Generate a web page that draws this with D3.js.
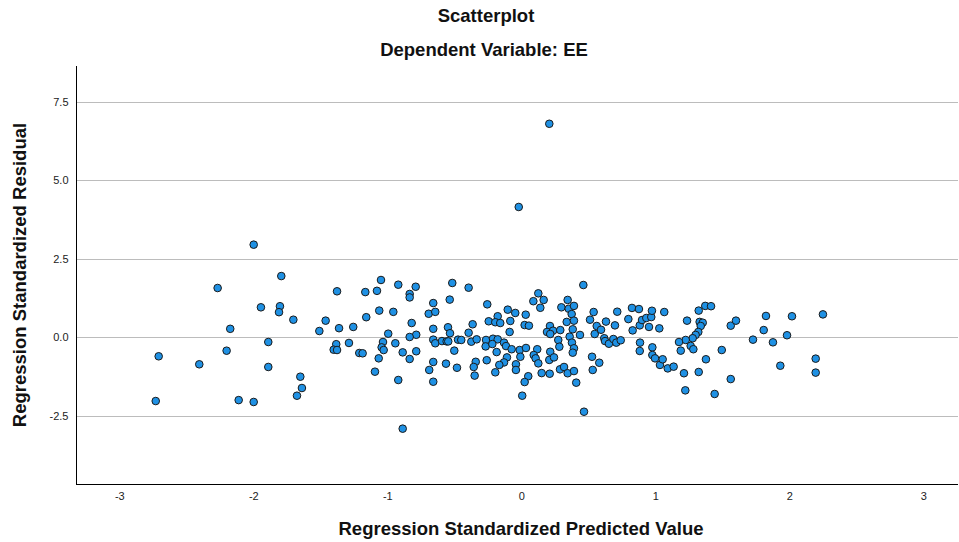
<!DOCTYPE html>
<html>
<head>
<meta charset="utf-8">
<script src="https://cdn.jsdelivr.net/npm/d3@7"></script>
<style>
  html, body { margin: 0; padding: 0; background: #fff; }
  svg { display: block; font-family: "Liberation Sans", Arial, sans-serif; }
</style>
</head>
<body>
<svg id="chart" width="959" height="542"></svg>
<script>
// ---- Data ----
const predicted = [
  -1.997,-2.266,-1.943,-2.172,-2.706,-2.403,-2.199,-2.728,-2.109,-1.997,
  -1.791,-1.375,-1.164,-1.077,-1.047,-1.801,-1.808,-1.701,-1.460,-1.507,
  -1.360,-1.254,-1.157,-1.060,-1.888,-1.381,-1.400,-1.375,-1.286,-1.209,
  -1.184,-1.032,-1.042,-1.027,-1.064,-1.092,-1.888,-1.649,-1.637,-1.674,
  -0.918,-0.788,-0.833,-0.833,-0.515,-0.393,-0.534,-0.657,-0.691,-0.642,
  -0.955,-0.818,-0.254,-0.243,-0.993,-0.784,-0.833,-0.657,-0.547,-0.532,
  -0.363,-0.393,-0.940,-0.885,-0.784,-0.833,-0.657,-0.642,-0.592,-0.557,
  -0.545,-0.472,-0.448,-0.373,-0.333,-0.263,-0.266,-0.500,-0.657,-0.687,
  -0.562,-0.480,-0.340,-0.355,-0.348,-0.258,-0.918,-0.657,-0.885,
  0.127,0.090,0.167,0.142,-0.101,-0.045,-0.176,-0.194,-0.157,-0.082,
  0.033,0.025,0.057,-0.087,0.299,0.346,0.354,0.376,0.339,0.214,
  0.192,0.237,0.291,0.216,0.384,0.361,0.276,0.284,0.378,-0.211,
  -0.176,-0.216,-0.129,-0.114,-0.184,-0.072,-0.012,0.035,0.119,0.216,
  -0.107,-0.129,-0.164,-0.007,0.093,0.107,0.127,0.209,0.244,-0.040,
  -0.040,-0.194,0.152,0.212,0.289,0.319,0.346,0.052,0.025,0.007,
  0.463,0.393,0.393,0.438,0.393,0.384,0.540,0.513,0.563,0.548,
  0.595,0.632,0.699,0.716,0.619,0.625,0.654,0.687,0.709,0.742,
  0.826,0.878,0.799,0.884,0.901,0.933,0.970,0.975,0.953,0.831,
  1.030,0.886,0.884,0.978,0.978,0.998,1.035,0.528,0.582,0.533,
  0.393,0.410,0.468,
  1.067,1.237,1.324,1.373,1.416,1.331,1.354,1.339,1.321,1.301,
  1.279,1.227,1.177,1.190,1.264,1.284,1.055,1.093,1.137,1.214,
  1.324,1.378,1.496,1.563,1.602,1.563,1.224,1.443,1.729,1.826,
  1.809,1.878,1.983,2.020,1.933,2.197,2.197,2.251,
  0.209,-0.019
];
const residual = [
  2.95,1.57,0.955,0.27,-0.605,-0.86,-0.427,-2.03,-2.00,-2.06,
  1.95,1.465,1.44,1.48,1.825,0.99,0.80,0.56,0.53,0.20,
  0.29,0.33,0.64,0.85,-0.15,-0.22,-0.395,-0.405,-0.18,-0.50,
  -0.51,-0.15,-0.32,-0.405,-0.67,-1.095,-0.945,-1.255,-1.615,-1.86,
  1.675,1.61,1.38,1.27,1.73,1.58,1.20,1.09,0.75,0.81,
  0.81,0.455,1.05,0.51,0.115,0.08,0.01,0.27,0.32,0.13,
  0.415,0.145,-0.19,-0.48,-0.445,-0.69,-0.075,-0.19,-0.12,-0.13,
  -0.13,-0.075,-0.085,-0.14,-0.065,-0.085,-0.29,-0.425,-0.785,-1.04,
  -0.84,-0.97,-0.78,-0.945,-1.22,-0.73,-1.36,-1.415,-2.91,
  1.40,1.15,1.19,0.94,0.88,0.775,0.67,0.48,0.455,0.52,
  0.72,0.39,0.37,0.17,0.955,1.19,0.91,0.74,0.49,0.36,
  0.17,0.21,0.23,0.105,0.255,0.02,-0.085,-0.30,-0.17,-0.045,
  -0.065,-0.215,-0.17,-0.28,-0.47,-0.38,-0.405,-0.34,-0.38,-0.46,
  -0.64,-0.80,-0.88,-0.62,-0.565,-0.67,-0.83,-0.72,-0.64,-0.86,
  -1.04,-1.115,-1.14,-1.16,-1.02,-0.945,-1.145,-1.24,-1.425,-1.86,
  1.665,1.00,0.53,0.075,-0.35,-0.49,0.805,0.56,0.36,0.105,
  0.24,0.50,0.38,0.815,-0.03,-0.12,-0.205,-0.055,-0.17,-0.095,
  0.935,0.90,0.58,0.38,0.55,0.615,0.645,0.845,0.33,0.22,
  0.285,-0.17,-0.435,-0.32,-0.565,-0.67,-0.88,-0.62,-0.81,-1.04,
  -1.075,-1.445,-2.37,
  0.805,0.53,0.85,1.00,0.99,0.49,0.465,0.36,0.17,0.075,
  -0.03,-0.085,-0.15,-0.425,-0.275,-0.38,-0.70,-0.99,-0.935,-1.145,
  -1.105,-0.70,-0.405,0.37,0.53,-1.33,-1.69,-1.805,-0.075,0.68,
  0.23,-0.16,0.065,0.67,-0.905,-0.68,-1.125,0.73,
  6.80,4.15
];
const xTicks = [-3, -2, -1, 0, 1, 2, 3];
const yTicks = [-2.5, 0, 2.5, 5, 7.5];
const xDomain = [-3.323, 3.259];
const yDomain = [-4.672, 8.64];
const titleText = "Scatterplot";
const subtitleText = "Dependent Variable: EE";
const xTitle = "Regression Standardized Predicted Value";
const yTitle = "Regression Standardized Residual";

// ---- Layout ----
const svg = d3.select("#chart");
const L = 76, R = 958, T = 66, B = 484;

const x = d3.scaleLinear().domain(xDomain).range([L, R]);
const y = d3.scaleLinear().domain(yDomain).range([B, T]);

// gridlines
svg.append("g")
  .selectAll("line")
  .data(yTicks)
  .join("line")
  .attr("x1", L).attr("x2", R)
  .attr("y1", d => Math.round(y(d)) + 0.5)
  .attr("y2", d => Math.round(y(d)) + 0.5)
  .attr("stroke", "#bcbcbc")
  .attr("stroke-width", 1);

// y axis
const yAxis = d3.axisLeft(y).tickValues(yTicks).tickSize(0).tickPadding(8)
  .tickFormat(d => d.toFixed(1));
const gy = svg.append("g").attr("transform", `translate(${L + 0.5},0)`).call(yAxis);
gy.select(".domain").attr("stroke", "#000").attr("d", `M0,${T}V${B}`);
gy.selectAll("text").attr("font-size", 11).attr("fill", "#222")
  .attr("font-family", "Liberation Sans, Arial, sans-serif");

// x axis
const xAxis = d3.axisBottom(x).tickValues(xTicks).tickSize(0).tickPadding(8)
  .tickFormat(d => String(d));
const gx = svg.append("g").attr("transform", `translate(0,${B + 0.5})`).call(xAxis);
gx.select(".domain").attr("stroke", "#000").attr("d", `M${L},0H${R}`);
gx.selectAll("text").attr("font-size", 11).attr("fill", "#222")
  .attr("font-family", "Liberation Sans, Arial, sans-serif");

// points
const pts = predicted.map((p, i) => ({ p, r: residual[i] }));
svg.append("g")
  .selectAll("circle")
  .data(pts)
  .join("circle")
  .attr("cx", d => x(d.p))
  .attr("cy", d => y(d.r))
  .attr("r", 3.8)
  .attr("fill", "#1f91e4")
  .attr("stroke", "#1a1a1a")
  .attr("stroke-width", 1);

// titles
const fs = 18.5;
svg.append("text").attr("x", 486).attr("y", 22).attr("text-anchor", "middle")
  .attr("font-size", fs).attr("font-weight", "bold").attr("fill", "#111").text(titleText);
svg.append("text").attr("x", 484).attr("y", 56).attr("text-anchor", "middle")
  .attr("font-size", fs).attr("font-weight", "bold").attr("fill", "#111").text(subtitleText);
svg.append("text").attr("x", 521).attr("y", 535).attr("text-anchor", "middle")
  .attr("font-size", fs).attr("font-weight", "bold").attr("fill", "#111").text(xTitle);
svg.append("text").attr("transform", `translate(26,${(T + B) / 2}) rotate(-90)`)
  .attr("text-anchor", "middle")
  .attr("font-size", fs).attr("font-weight", "bold").attr("fill", "#111").text(yTitle);
</script>
</body>
</html>
